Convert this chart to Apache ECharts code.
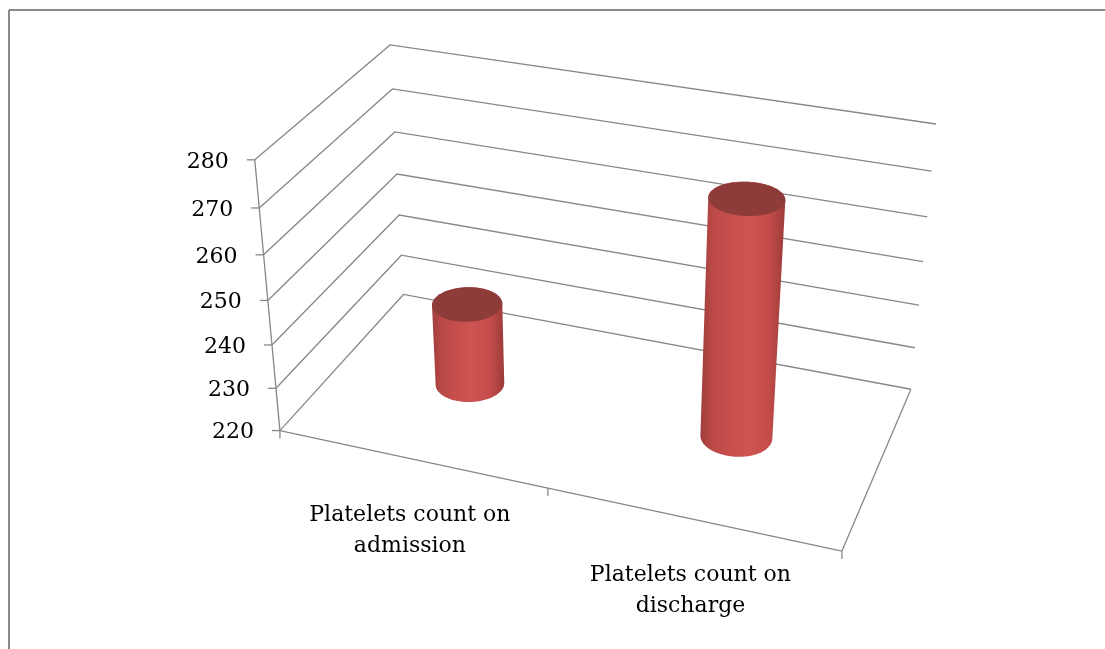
<!DOCTYPE html>
<html>
<head>
<meta charset="utf-8">
<title>Platelets count</title>
<script src="https://cdn.jsdelivr.net/npm/echarts/dist/echarts.min.js"></script>
<style>
  html, body { margin: 0; padding: 0; background: #fff; }
  #chart { width: 1105px; height: 649px; }
</style>
</head>
<body>
<div id="chart"></div>
<script>
// Categories, values and tick labels
const categories = ['Platelets count on\nadmission', 'Platelets count on\ndischarge'];
const plateletValues = [239, 273];
const tickValues = [220, 230, 240, 250, 260, 270, 280];

// Perspective of the 3D box: reference corners of the unit box
// (X across categories, Y up the value range, Z into depth) and where they appear on screen.
const VIEW_ANCHORS = [
  [0, 0 / 6, 0, 280.0, 430.5], [0, 1 / 6, 0, 276.3, 388.3], [0, 2 / 6, 0, 272.0, 344.7],
  [0, 3 / 6, 0, 267.7, 300.0], [0, 4 / 6, 0, 263.3, 255.7], [0, 5 / 6, 0, 259.3, 208.3],
  [0, 6 / 6, 0, 255.0, 159.3],
  [0, 0 / 6, 1, 403.3, 294.3], [0, 1 / 6, 1, 401.3, 255.7], [0, 2 / 6, 1, 399.3, 215.0],
  [0, 3 / 6, 1, 397.3, 174.0], [0, 4 / 6, 1, 394.7, 131.7], [0, 5 / 6, 1, 392.3, 89.0],
  [0, 6 / 6, 1, 390.0, 44.7],
  [1, 0 / 6, 1, 910.7, 389.0], [1, 1 / 6, 1, 915.0, 347.7], [1, 2 / 6, 1, 919.0, 305.3],
  [1, 3 / 6, 1, 923.3, 261.7], [1, 4 / 6, 1, 927.3, 217.3], [1, 5 / 6, 1, 931.7, 171.0],
  [1, 6 / 6, 1, 935.7, 124.0],
  [1, 0, 0, 842.3, 550.7], [0.5, 0, 0, 547.3, 488.5]
];

// Least-squares fit of a 3x4 projective camera matrix
function fitProjection(pts) {
  const n = 11;
  const M = Array.from({ length: n }, () => new Array(n).fill(0));
  const r = new Array(n).fill(0);
  pts.forEach(([X, Y, Z, sx, sy]) => {
    const rows = [
      [X, Y, Z, 1, 0, 0, 0, 0, -sx * X, -sx * Y, -sx * Z, sx],
      [0, 0, 0, 0, X, Y, Z, 1, -sy * X, -sy * Y, -sy * Z, sy]
    ];
    rows.forEach(row => {
      for (let i = 0; i < n; i++) {
        r[i] += row[i] * row[n];
        for (let j = 0; j < n; j++) M[i][j] += row[i] * row[j];
      }
    });
  });
  for (let c = 0; c < n; c++) {
    let p = c;
    for (let k = c + 1; k < n; k++) if (Math.abs(M[k][c]) > Math.abs(M[p][c])) p = k;
    [M[c], M[p]] = [M[p], M[c]];
    [r[c], r[p]] = [r[p], r[c]];
    for (let k = c + 1; k < n; k++) {
      const f = M[k][c] / M[c][c];
      for (let j = c; j < n; j++) M[k][j] -= f * M[c][j];
      r[k] -= f * r[c];
    }
  }
  const out = new Array(n);
  for (let i = n - 1; i >= 0; i--) {
    let s = r[i];
    for (let j = i + 1; j < n; j++) s -= M[i][j] * out[j];
    out[i] = s / M[i][i];
  }
  return out;
}
const P = fitProjection(VIEW_ANCHORS);
function project(X, Y, Z) {
  const w = P[8] * X + P[9] * Y + P[10] * Z + 1;
  return [(P[0] * X + P[1] * Y + P[2] * Z + P[3]) / w,
          (P[4] * X + P[5] * Y + P[6] * Z + P[7]) / w];
}

// Grid pixel -> unit box coordinates
function toUnit(params, pt) {
  const cs = params.coordSys;
  return [(pt[0] - cs.x) / cs.width, (cs.y + cs.height - pt[1]) / cs.height];
}

function convexHull(points) {
  const pts = points.slice().sort((a, b) => a[0] - b[0] || a[1] - b[1]);
  const cross = (o, a, b) => (a[0] - o[0]) * (b[1] - o[1]) - (a[1] - o[1]) * (b[0] - o[0]);
  const lower = [], upper = [];
  for (const p of pts) {
    while (lower.length >= 2 && cross(lower[lower.length - 2], lower[lower.length - 1], p) <= 0) lower.pop();
    lower.push(p);
  }
  for (let i = pts.length - 1; i >= 0; i--) {
    const p = pts[i];
    while (upper.length >= 2 && cross(upper[upper.length - 2], upper[upper.length - 1], p) <= 0) upper.pop();
    upper.push(p);
  }
  upper.pop(); lower.pop();
  return lower.concat(upper);
}

const LINE = { stroke: '#878787', lineWidth: 1.3, fill: null };
const FONT = { fontFamily: 'DejaVu Serif', fontSize: 22, fill: '#000' };
const BAR_RX = 0.062, BAR_RZ = 0.12, BAR_DEPTH = 0.5;

// Walls: one gridline per tick, the vertical axis, tick marks and tick labels
function renderWalls(params, api) {
  const v = api.value(1);
  const Y = toUnit(params, api.coord([0, v]))[1];
  const children = [];
  const a = project(0, Y, 0), b = project(0, Y, 1), c = project(1, Y, 1);
  children.push({ type: 'polyline', shape: { points: [a, b, c] }, style: LINE });
  children.push({ type: 'line', shape: { x1: a[0] - 8, y1: a[1], x2: a[0], y2: a[1] }, style: LINE });
  const next = params.dataIndex + 1 < tickValues.length ? tickValues[params.dataIndex + 1] : null;
  if (next !== null) {
    const Yn = toUnit(params, api.coord([0, next]))[1];
    const an = project(0, Yn, 0);
    children.push({ type: 'line', shape: { x1: a[0], y1: a[1], x2: an[0], y2: an[1] }, style: LINE });
  }
  children.push({
    type: 'text',
    style: Object.assign({ text: String(v), x: a[0] - 26, y: a[1] + 2, align: 'right', verticalAlign: 'middle' }, FONT)
  });
  return { type: 'group', children };
}

// Floor front edge, category ticks and category labels
function renderCategories(params, api) {
  const i = api.value(0);
  const count = categories.length;
  const Y0 = toUnit(params, api.coord([i, tickValues[0]]))[1];
  const Xc = toUnit(params, api.coord([i, tickValues[0]]))[0];
  const x0 = i / count, x1 = (i + 1) / count;
  const children = [];
  const p0 = project(x0, Y0, 0), p1 = project(x1, Y0, 0);
  children.push({ type: 'line', shape: { x1: p0[0], y1: p0[1], x2: p1[0], y2: p1[1] }, style: LINE });
  children.push({ type: 'line', shape: { x1: p0[0], y1: p0[1], x2: p0[0], y2: p0[1] + 8 }, style: LINE });
  if (i === count - 1) {
    children.push({ type: 'line', shape: { x1: p1[0], y1: p1[1], x2: p1[0], y2: p1[1] + 8 }, style: LINE });
    const back = project(1, Y0, 1);
    children.push({ type: 'line', shape: { x1: p1[0], y1: p1[1], x2: back[0], y2: back[1] }, style: LINE });
  }
  const pc = project(Xc, Y0, 0);
  children.push({
    type: 'text',
    style: Object.assign({
      text: categories[i], x: pc[0] - 1, y: pc[1] + 72, align: 'center', verticalAlign: 'middle', lineHeight: 31
    }, FONT)
  });
  return { type: 'group', children };
}

// Cylinders
function renderBars(params, api) {
  const i = api.value(0);
  const base = toUnit(params, api.coord([i, tickValues[0]]));
  const top = toUnit(params, api.coord([i, api.value(1)]));
  const Xc = base[0];
  const N = 72;
  const bottomRing = [], topRing = [];
  for (let k = 0; k < N; k++) {
    const t = (k / N) * Math.PI * 2;
    const X = Xc + BAR_RX * Math.cos(t), Z = BAR_DEPTH + BAR_RZ * Math.sin(t);
    bottomRing.push(project(X, base[1], Z));
    topRing.push(project(X, top[1], Z));
  }
  const hull = convexHull(bottomRing.concat(topRing));
  const xs = hull.map(p => p[0]);
  const minX = Math.min(...xs), maxX = Math.max(...xs);
  return {
    type: 'group',
    children: [
      {
        type: 'polygon', shape: { points: hull },
        style: {
          fill: {
            type: 'linear', x: minX, y: 0, x2: maxX, y2: 0, global: true,
            colorStops: [
              { offset: 0, color: '#9f3e3c' },
              { offset: 0.15, color: '#bc4a47' },
              { offset: 0.55, color: '#cf5451' },
              { offset: 0.8, color: '#c44d4a' },
              { offset: 1, color: '#9c3b39' }
            ]
          }
        }
      },
      { type: 'polygon', shape: { points: topRing }, style: { fill: '#8e3c3a' } }
    ]
  };
}

const chart = echarts.init(document.getElementById('chart'), null, { renderer: 'canvas' });
chart.setOption({
  animation: false,
  backgroundColor: '#ffffff',
  grid: { left: 0, right: 0, top: 0, bottom: 0, show: false },
  xAxis: { type: 'category', data: categories, show: false },
  yAxis: { type: 'value', min: 220, max: 280, interval: 10, show: false },
  graphic: [
    { type: 'line', silent: true, shape: { x1: 9, y1: 10, x2: 1105, y2: 10 }, style: { stroke: '#8a8a8a', lineWidth: 2 } },
    { type: 'line', silent: true, shape: { x1: 9, y1: 10, x2: 9, y2: 649 }, style: { stroke: '#8a8a8a', lineWidth: 2 } }
  ],
  series: [
    { type: 'custom', name: 'walls', renderItem: renderWalls, data: tickValues.map(v => [0, v]), silent: true },
    { type: 'custom', name: 'categories', renderItem: renderCategories, data: categories.map((c, i) => [i, tickValues[0]]), silent: true },
    { type: 'custom', name: 'Platelets', renderItem: renderBars, data: plateletValues.map((v, i) => [i, v]) }
  ]
});
</script>
</body>
</html>
